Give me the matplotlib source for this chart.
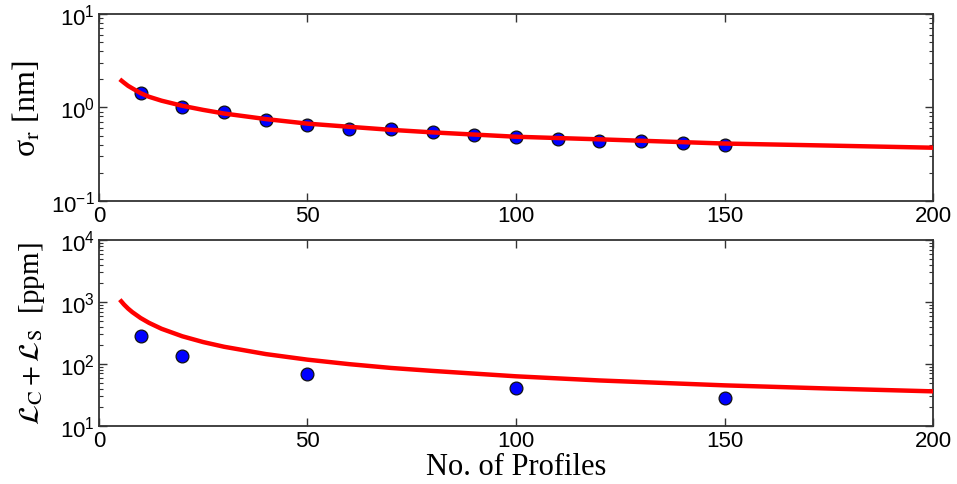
import matplotlib
matplotlib.use("Agg")
import matplotlib.pyplot as plt
from matplotlib.ticker import LogLocator, FixedLocator, NullLocator

plt.rcParams["font.family"] = ["Liberation Sans", "DejaVu Sans"]
plt.rcParams["mathtext.fontset"] = "custom"
plt.rcParams["mathtext.rm"] = "Liberation Sans"
plt.rcParams["mathtext.it"] = "Liberation Sans:italic"
plt.rcParams["mathtext.bf"] = "Liberation Sans:bold"

# Measured points
n_sigma = [10, 20, 30, 40, 50, 60, 70, 80, 90, 100, 110, 120, 130, 140, 150]
sigma_r = [1.41, 1.02, 0.90, 0.725, 0.64, 0.594, 0.58, 0.55, 0.51, 0.48, 0.46, 0.44, 0.435, 0.42, 0.40]

n_loss = [10, 20, 50, 100, 150]
loss_ppm = [280, 134, 69, 41, 28]

# Model curves
n_model = [5, 6, 7, 8, 10, 12, 15, 20, 25, 30, 40, 50, 60, 70, 80, 100, 120, 150, 175, 200]
sigma_model = [2.0, 1.84, 1.70, 1.60, 1.42, 1.30, 1.18, 1.04, 0.94, 0.86, 0.75, 0.67,
               0.62, 0.575, 0.54, 0.485, 0.455, 0.41, 0.39, 0.37]
loss_model = [1090, 910, 780, 685, 550, 460, 369, 279, 225, 189, 144, 117,
              99, 86, 77, 63, 54, 45, 40, 36]

x_ticks = [0, 50, 100, 150, 200]

fig = plt.figure(figsize=(9.57, 4.85), dpi=100)
ax1 = fig.add_axes([0.1034, 0.584, 0.8716, 0.385])
ax2 = fig.add_axes([0.1034, 0.120, 0.8716, 0.383])

marker_kw = dict(linestyle="none", marker="o", markersize=9.2,
                 markerfacecolor="#0000ff", markeredgecolor="#111111",
                 markeredgewidth=0.9, zorder=2)
line_kw = dict(color="#ff0000", linewidth=3.2, zorder=3, solid_capstyle="butt")

ax1.plot(n_sigma, sigma_r, **marker_kw)
ax1.plot(n_model, sigma_model, **line_kw)
ax2.plot(n_loss, loss_ppm, **marker_kw)
ax2.plot(n_model, loss_model, **line_kw)

ax1.set_ylim(0.1, 10)
ax2.set_ylim(10, 1e4)

for ax in (ax1, ax2):
    ax.set_yscale("log")
    ax.set_xlim(0, 200)
    ax.xaxis.set_major_locator(FixedLocator(x_ticks))
    ax.xaxis.set_minor_locator(NullLocator())
    ax.yaxis.set_major_locator(LogLocator(base=10))
    ax.yaxis.set_minor_locator(LogLocator(base=10, subs=range(2, 10)))
    ax.tick_params(which="both", direction="in", top=True, right=True,
                   color="#333333", labelsize=16, labelcolor="black")
    ax.tick_params(which="major", length=6, width=1.0, pad=3)
    ax.tick_params(which="minor", length=3, width=0.8)
    for sp in ax.spines.values():
        sp.set_color("#333333")
        sp.set_linewidth(1.3)

ax1.set_ylabel("σ$_{\\mathrm{r}}$ [nm]", family="Liberation Serif",
               math_fontfamily="stix", fontsize=23, labelpad=6)
ax2.set_ylabel(r"$\mathcal{L}_{\mathrm{C}}+\mathcal{L}_{\mathrm{S}}$  [ppm]",
               family="Liberation Serif", math_fontfamily="stix",
               fontsize=21, labelpad=9)
ax2.set_xlabel("No. of Profiles", family="Liberation Serif", fontsize=22,
               labelpad=1)

fig.savefig("out.png", dpi=100)
